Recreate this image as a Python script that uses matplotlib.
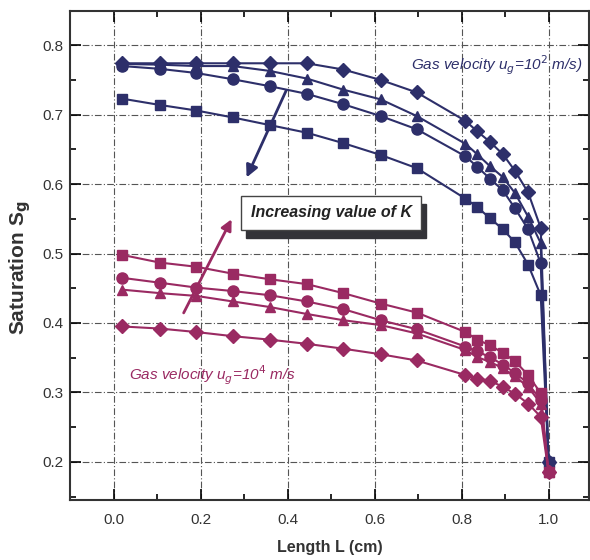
import numpy as np
import matplotlib
matplotlib.use("Agg")
from matplotlib import pyplot as plt
from matplotlib import transforms
from matplotlib.ticker import MultipleLocator

# posiciones en L (cm)
L = [0.02, 0.106, 0.19, 0.274, 0.359, 0.444, 0.528, 0.614, 0.697,
     0.809, 0.836, 0.865, 0.895, 0.923, 0.953, 0.982, 1.0]

# u_g = 10^2 m/s
azul_rombo = [0.774, 0.774, 0.774, 0.774, 0.774, 0.774, 0.765, 0.750, 0.732,
              0.691, 0.676, 0.661, 0.643, 0.619, 0.588, 0.537, 0.200]
azul_tri = [0.773, 0.772, 0.770, 0.770, 0.763, 0.752, 0.736, 0.722, 0.698,
            0.658, 0.643, 0.626, 0.610, 0.587, 0.553, 0.515, 0.200]
azul_circ = [0.770, 0.766, 0.760, 0.751, 0.741, 0.730, 0.715, 0.698, 0.679,
             0.640, 0.625, 0.608, 0.591, 0.565, 0.535, 0.486, 0.200]
azul_cuad = [0.723, 0.714, 0.706, 0.696, 0.685, 0.674, 0.659, 0.642, 0.623,
             0.579, 0.567, 0.551, 0.535, 0.516, 0.484, 0.440, 0.200]

# u_g = 10^4 m/s
mag_cuad = [0.498, 0.487, 0.481, 0.471, 0.463, 0.456, 0.443, 0.428, 0.415,
            0.387, 0.376, 0.368, 0.357, 0.345, 0.325, 0.299, 0.185]
mag_circ = [0.465, 0.458, 0.451, 0.446, 0.440, 0.431, 0.420, 0.404, 0.391,
            0.366, 0.359, 0.351, 0.340, 0.328, 0.313, 0.289, 0.185]
mag_tri = [0.448, 0.443, 0.439, 0.431, 0.423, 0.413, 0.404, 0.397, 0.385,
           0.361, 0.351, 0.344, 0.335, 0.323, 0.308, 0.284, 0.185]
mag_rombo = [0.395, 0.392, 0.387, 0.381, 0.376, 0.370, 0.363, 0.355, 0.346,
             0.325, 0.320, 0.317, 0.308, 0.298, 0.284, 0.265, 0.185]

azul = "#2d2f6a"
magenta = "#9a2a62"

plt.rcParams["font.family"] = ["Liberation Sans", "DejaVu Sans"]

fig = plt.figure(figsize=(5.9, 5.6), dpi=100)
ax = fig.add_axes([0.119, 0.107, 0.88, 0.873])

tam = {"D": 7, "^": 7.5, "o": 8, "s": 7.5}
for y, m in [(azul_rombo, "D"), (azul_tri, "^"), (azul_circ, "o"), (azul_cuad, "s")]:
    ax.plot(L, y, color=azul, marker=m, ms=tam[m], lw=1.5, zorder=3)
for y, m in [(mag_cuad, "s"), (mag_circ, "o"), (mag_tri, "^"), (mag_rombo, "D")]:
    ax.plot(L, y, color=magenta, marker=m, ms=tam[m], lw=1.5, zorder=3)

ax.set_xlim(-0.1, 1.094)
ax.set_ylim(0.145, 0.849)
ax.xaxis.set_minor_locator(MultipleLocator(0.1))
ax.yaxis.set_major_locator(MultipleLocator(0.1))
ax.yaxis.set_minor_locator(MultipleLocator(0.05))
ax.set_xticks(np.arange(0, 1.01, 0.2))
ax.set_xticklabels(["0.0", "0.2", "0.4", "0.6", "0.8", "1.0"])
ax.tick_params(which="both", direction="in", top=True, right=True,
               labelsize=11, labelcolor="#333333", width=1.2)
ax.tick_params(which="major", length=8)
ax.tick_params(axis="x", which="major", pad=9)
ax.tick_params(axis="y", which="major", pad=5)
ax.tick_params(which="minor", length=4)
for s in ax.spines.values():
    s.set_linewidth(1.5)
    s.set_color("#333333")
ax.grid(True, which="major", color="#555555", lw=0.8, ls=(0, (6, 2, 1, 2)))

ax.set_xlabel("Length L (cm)", fontsize=11.5, fontweight="bold", color="#333333", labelpad=10)
ax.set_ylabel("Saturation S$_\\mathbf{g}$", fontsize=15, fontweight="bold", color="#333333")
ax.yaxis.set_label_coords(-0.072, 0.476)

# textos
ax.text(0.683, 0.771, "Gas velocity u$_g$=10$^2$ m/s)", color=azul, fontsize=11,
        style="italic", va="center", zorder=5)
ax.text(0.035, 0.325, "Gas velocity u$_g$=10$^4$ m/s", color=magenta, fontsize=11,
        style="italic", va="center", zorder=5)

# flechas
ax.annotate("", xy=(0.303, 0.606), xytext=(0.399, 0.738),
            arrowprops=dict(arrowstyle="-|>", color=azul, lw=2, mutation_scale=18), zorder=4)
ax.annotate("", xy=(0.274, 0.553), xytext=(0.158, 0.411),
            arrowprops=dict(arrowstyle="-|>", color=magenta, lw=2, mutation_scale=16), zorder=4)

# caja con sombra
sombra = transforms.offset_copy(ax.transData, fig=fig, x=3.5, y=-6, units="points")
caja = dict(fontsize=11.5, fontweight="bold", style="italic", ha="center", va="center")
ax.text(0.5, 0.559, "Increasing value of K", transform=sombra, color="#333338",
        bbox=dict(boxstyle="square,pad=0.6", fc="#333338", ec="#333338"), zorder=5, **caja)
ax.text(0.5, 0.559, "Increasing value of K", color="#222222",
        bbox=dict(boxstyle="square,pad=0.6", fc="white", ec="#444444", lw=1), zorder=6, **caja)

fig.savefig("out.png", dpi=100)
